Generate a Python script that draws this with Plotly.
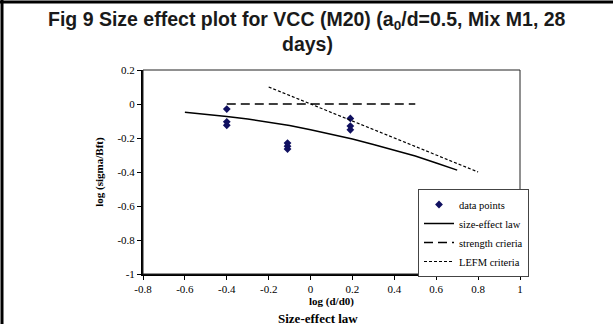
import plotly.graph_objects as go

# ---- data ----
pts_x = [-0.4, -0.4, -0.4, -0.11, -0.11, -0.11, 0.19, 0.19, 0.19]
pts_y = [-0.03, -0.105, -0.125, -0.23, -0.248, -0.265, -0.085, -0.13, -0.152]

law_x = [-0.6, -0.5, -0.4, -0.3, -0.2, -0.1, 0.0, 0.1, 0.2, 0.3, 0.4, 0.5, 0.6, 0.7]
law_y = [-0.049, -0.06, -0.073, -0.088, -0.105, -0.126, -0.151, -0.177, -0.206,
         -0.238, -0.271, -0.306, -0.347, -0.389]

strength_x = [-0.4, 0.5]
strength_y = [0.0, 0.0]

lefm_x = [-0.2, 0.8]
lefm_y = [0.1, -0.4]

x_tickvals = [-0.8, -0.6, -0.4, -0.2, 0, 0.2, 0.4, 0.6, 0.8, 1]
x_ticktext = ["-0.8", "-0.6", "-0.4", "-0.2", "0", "0.2", "0.4", "0.6", "0.8", "1"]
y_tickvals = [0.2, 0, -0.2, -0.4, -0.6, -0.8, -1]
y_ticktext = ["0.2", "0", "-0.2", "-0.4", "-0.6", "-0.8", "-1"]

title_line1 = "Fig 9 Size effect plot for VCC (M20) (a<sub>0</sub>/d=0.5, Mix M1, 28"
title_line2 = "days)"
bottom_text = "Size-effect law"

# ---- layout geometry ----
W, H = 613, 324
L, R, T, B = 143, 93, 70, 50
pw, ph = W - L - R, H - T - B


def px(xp):
    return (xp - L) / pw


def py(yp):
    return (H - B - yp) / ph


serif = "'Liberation Serif', 'Times New Roman', serif"
sans_narrow = "'Liberation Sans Narrow', 'Arial Narrow', 'Liberation Sans', Arial"

fig = go.Figure()
fig.add_trace(go.Scatter(x=pts_x, y=pts_y, mode="markers", name="data points",
                         marker=dict(symbol="diamond", size=6, color="#101060")))
fig.add_trace(go.Scatter(x=law_x, y=law_y, mode="lines", name="size-effect law",
                         line=dict(color="black", width=1.5)))
fig.add_trace(go.Scatter(x=strength_x, y=strength_y, mode="lines", name="strength crieria",
                         line=dict(color="black", width=1.5, dash="9px,5px")))
fig.add_trace(go.Scatter(x=lefm_x, y=lefm_y, mode="lines", name="LEFM criteria",
                         line=dict(color="black", width=1.2, dash="3px,2px")))

axis_common = dict(showgrid=False, zeroline=False, ticks="outside", ticklen=4,
                   tickcolor="black", showline=True, linecolor="black", linewidth=2,
                   tickfont=dict(family=serif, size=11, color="black"))

fig.update_layout(
    width=W, height=H,
    margin=dict(l=L, r=R, t=T, b=B),
    paper_bgcolor="white", plot_bgcolor="white",
    xaxis=dict(range=[-0.8, 1], tickvals=x_tickvals, ticktext=x_ticktext,
               title=dict(text="<b>log (d/d0)</b>", standoff=1,
                          font=dict(family=serif, size=11, color="black")),
               **axis_common),
    yaxis=dict(range=[-1, 0.2], tickvals=y_tickvals, ticktext=y_ticktext,
               title=dict(text="<b>log (sigma/Bft)</b>", standoff=12,
                          font=dict(family=serif, size=11, color="black")),
               **axis_common),
    legend=dict(x=px(418), y=py(189), xanchor="left", yanchor="top",
                bgcolor="white", bordercolor="#444", borderwidth=1,
                font=dict(family=serif, size=10.5, color="black"),
                tracegroupgap=0, itemwidth=30),
    showlegend=True,
)

# thin frame on top / right of plot area
fig.add_shape(type="rect", xref="paper", yref="paper", x0=0, y0=0, x1=1, y1=1,
              line=dict(color="#222", width=1), layer="above")
# image border: top and left lines
fig.add_shape(type="line", xref="paper", yref="paper", x0=px(0), x1=px(W),
              y0=py(2), y1=py(2), line=dict(color="black", width=3))
fig.add_shape(type="line", xref="paper", yref="paper", x0=px(2), x1=px(2),
              y0=py(0), y1=py(H), line=dict(color="black", width=3))

# title as two centred lines
fig.add_annotation(text="<b>" + title_line1 + "</b>", xref="paper", yref="paper",
                   x=px(307), y=py(20), xanchor="center", yanchor="middle",
                   showarrow=False,
                   font=dict(family=sans_narrow, size=19.5, color="#1a1a1a"))
fig.add_annotation(text="<b>" + title_line2 + "</b>", xref="paper", yref="paper",
                   x=px(307), y=py(44), xanchor="center", yanchor="middle",
                   showarrow=False,
                   font=dict(family=sans_narrow, size=19.5, color="#1a1a1a"))

fig.add_annotation(text="<b>" + bottom_text + "</b>", xref="paper", yref="paper",
                   x=px(318), y=py(318), xanchor="center", yanchor="middle",
                   showarrow=False, font=dict(family=serif, size=13, color="black"))

fig.write_html("out.html")
